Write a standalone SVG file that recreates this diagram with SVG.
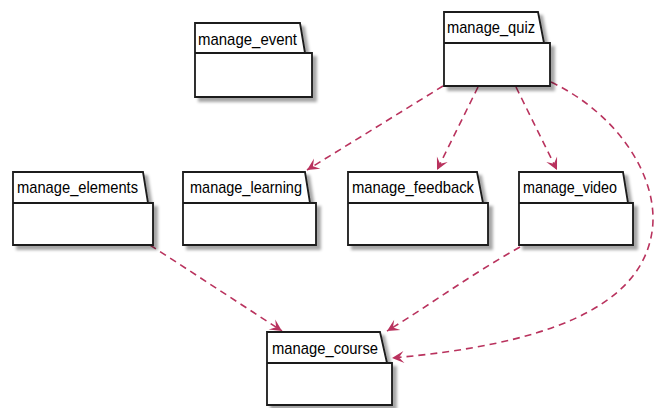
<svg xmlns="http://www.w3.org/2000/svg" width="661" height="408" viewBox="0 0 661 408">
<style>
.pkg{fill:#fff;stroke:#1a1a1a;stroke-width:1.8;filter:url(#sh)}
.sep{fill:none;stroke:#1a1a1a;stroke-width:1.8}
.lbl{font-family:"Liberation Sans",Arial,sans-serif;font-size:17px;fill:#000}
.edge{fill:none;stroke:#A80036;stroke-width:1.6;stroke-dasharray:7,5;opacity:0.8}
</style>
<defs>
<filter id="sh" x="-10%" y="-10%" width="130%" height="130%">
<feGaussianBlur in="SourceAlpha" stdDeviation="1.5"/>
<feOffset dx="4" dy="4" result="b"/>
<feFlood flood-color="#000" flood-opacity="0.35"/>
<feComposite in2="b" operator="in"/>
<feMerge><feMergeNode/><feMergeNode in="SourceGraphic"/></feMerge>
</filter>
<marker id="ah" markerUnits="userSpaceOnUse" markerWidth="16" markerHeight="14" viewBox="-14 -7 16 14" refX="0" refY="0" orient="auto">
<path d="M0,0 L-12,-6 L-7,0 L-12,6 Z" fill="#A80036"/>
</marker>
</defs>
<g id="connectors">
<path class="edge" marker-end="url(#ah)" d="M443,86 L307,170"/>
<path class="edge" marker-end="url(#ah)" d="M478,87 L437,170"/>
<path class="edge" marker-end="url(#ah)" d="M516,87 L557,170"/>
<path class="edge" marker-end="url(#ah)" d="M551,82 C620,115 660,180 652,232 C640,310 540,345 392,358"/>
<path class="edge" marker-end="url(#ah)" d="M520,247 C470,275 430,305 387,331"/>
<path class="edge" marker-end="url(#ah)" d="M150,245 L282,331"/>
</g>
<g id="manage_event">
<path class="pkg" d="M195,23 L300,23 L305,53 L312,53 L312,97 L195,97 Z"/>
<line class="sep" x1="195" y1="53" x2="305" y2="53"/>
<text class="lbl" x="198" y="45" textLength="99" lengthAdjust="spacingAndGlyphs">manage_event</text>
</g>
<g id="manage_quiz">
<path class="pkg" d="M444,12 L538,12 L544,43 L550,43 L550,86 L444,86 Z"/>
<line class="sep" x1="444" y1="43" x2="544" y2="43"/>
<text class="lbl" x="447" y="33" textLength="88" lengthAdjust="spacingAndGlyphs">manage_quiz</text>
</g>
<g id="manage_elements">
<path class="pkg" d="M13,172 L143,172 L148,203 L153,203 L153,245 L13,245 Z"/>
<line class="sep" x1="13" y1="203" x2="148" y2="203"/>
<text class="lbl" x="17" y="193" textLength="121" lengthAdjust="spacingAndGlyphs">manage_elements</text>
</g>
<g id="manage_learning">
<path class="pkg" d="M183,172 L305,172 L310,203 L316,203 L316,245 L183,245 Z"/>
<line class="sep" x1="183" y1="203" x2="310" y2="203"/>
<text class="lbl" x="190" y="193" textLength="112" lengthAdjust="spacingAndGlyphs">manage_learning</text>
</g>
<g id="manage_feedback">
<path class="pkg" d="M348,172 L477,172 L483,203 L488,203 L488,245 L348,245 Z"/>
<line class="sep" x1="348" y1="203" x2="483" y2="203"/>
<text class="lbl" x="352" y="193" textLength="122" lengthAdjust="spacingAndGlyphs">manage_feedback</text>
</g>
<g id="manage_video">
<path class="pkg" d="M519,172 L623,172 L628,203 L633,203 L633,245 L519,245 Z"/>
<line class="sep" x1="519" y1="203" x2="628" y2="203"/>
<text class="lbl" x="523" y="193" textLength="94" lengthAdjust="spacingAndGlyphs">manage_video</text>
</g>
<g id="manage_course">
<path class="pkg" d="M267,332 L380,332 L387,363 L392,363 L392,405 L267,405 Z"/>
<line class="sep" x1="267" y1="363" x2="387" y2="363"/>
<text class="lbl" x="272" y="354" textLength="106" lengthAdjust="spacingAndGlyphs">manage_course</text>
</g>
</svg>
